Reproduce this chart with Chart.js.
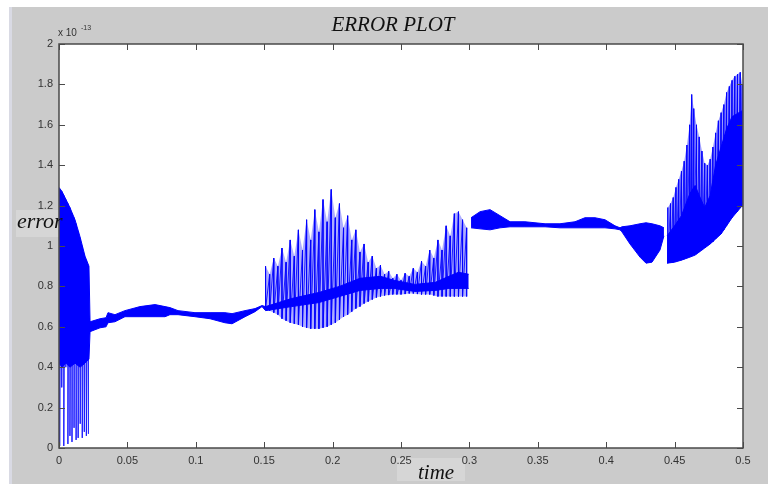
<!DOCTYPE html>
<html>
<head>
<meta charset="utf-8">
<title>Error plot</title>
<script src="https://cdn.jsdelivr.net/npm/chart.js@4.4.1/dist/chart.umd.min.js"></script>
<style>
  html, body { margin: 0; padding: 0; background: #fff; }
  #wrap { position: relative; width: 768px; height: 484px; }
</style>
</head>
<body>
<div id="wrap"><canvas id="errorChart" width="768" height="484"></canvas></div>
<script>
// Values are in units of 1e-13 (the axis carries the multiplier)

// Dense core of the signal: upper / lower edge, null = break
const bandTime = [
    0, 0.0022, 0.0051, 0.008, 0.0117, 0.0154, 0.019, 0.0219,
    0.0227, 0.030, 0.0344, 0.0358, 0.0409, 0.0482, 0.0592, 0.0702, 0.0775, 0.0811, 0.087,
    0.0994, 0.1104, 0.1213, 0.1265, 0.136, 0.1433, 0.1484,
    0.151, 0.17, 0.19, 0.205, 0.22, 0.235, 0.245, 0.26, 0.275, 0.285, 0.292, 0.2995,
    0.300,
    0.3012, 0.3078, 0.3151, 0.3224, 0.3297, 0.3406, 0.3553, 0.3662, 0.3772, 0.3845, 0.3918,
    0.3991, 0.4064, 0.4101, 0.4115, 0.4174, 0.4247, 0.4291, 0.4335, 0.4393, 0.4422,
    0.4435,
    0.4445, 0.45, 0.455, 0.4612, 0.465, 0.468, 0.472, 0.476, 0.48, 0.484, 0.488, 0.492, 0.4995
];
const bandHigh = [
    1.29, 1.27, 1.23, 1.19, 1.13, 1.045, 0.95, 0.90,
    0.625, 0.64, 0.645, 0.67, 0.66, 0.68, 0.70, 0.71, 0.70, 0.695, 0.68,
    0.67, 0.67, 0.67, 0.665, 0.68, 0.69, 0.705,
    0.70, 0.74, 0.77, 0.80, 0.84, 0.85, 0.83, 0.81, 0.82, 0.85, 0.87, 0.86,
    null,
    1.14, 1.17, 1.18, 1.15, 1.12, 1.12, 1.11, 1.11, 1.12, 1.14, 1.14,
    1.13, 1.10, 1.09, 1.095, 1.10, 1.11, 1.115, 1.11, 1.10, 1.09,
    null,
    1.05, 1.10, 1.15, 1.26, 1.30, 1.25, 1.19, 1.25, 1.40, 1.49, 1.58, 1.64, 1.67
];
const bandLow = [
    0.42, 0.40, 0.42, 0.40, 0.42, 0.40, 0.42, 0.44,
    0.576, 0.595, 0.60, 0.62, 0.625, 0.65, 0.65, 0.65, 0.65, 0.66, 0.66,
    0.65, 0.64, 0.62, 0.615, 0.65, 0.675, 0.70,
    0.68, 0.70, 0.72, 0.75, 0.78, 0.79, 0.79, 0.775, 0.78, 0.79, 0.79, 0.79,
    null,
    1.09, 1.085, 1.08, 1.09, 1.095, 1.095, 1.095, 1.09, 1.09, 1.09, 1.09,
    1.09, 1.085, 1.08, 1.07, 1.01, 0.945, 0.915, 0.92, 0.98, 1.05,
    null,
    0.915, 0.92, 0.93, 0.945, 0.955, 0.97, 0.99, 1.01, 1.035, 1.06, 1.10, 1.14, 1.20
];

// Start-up transient: peak / trough of each swing
const startTime = [0.0005, 0.002, 0.0035, 0.005, 0.0065, 0.008, 0.0095, 0.011, 0.0125, 0.014, 0.0155, 0.017, 0.0185, 0.020, 0.0215];
const startHigh = [1.28, 1.27, 1.25, 1.23, 1.21, 1.19, 1.16, 1.14, 1.11, 1.07, 1.04, 1.00, 0.96, 0.93, 0.90];
const startLow  = [0.01, 0.30, 0.01, 0.40, 0.02, 0.06, 0.03, 0.10, 0.04, 0.05, 0.12, 0.05, 0.08, 0.06, 0.07];

// Swing between 0.15 and 0.3
const rampTime = [
    0.151, 0.154, 0.157, 0.160, 0.163, 0.166, 0.169, 0.172, 0.175, 0.178,
    0.181, 0.184, 0.187, 0.190, 0.193, 0.196, 0.199, 0.202, 0.205, 0.208,
    0.211, 0.214, 0.217, 0.220, 0.223, 0.226, 0.229, 0.232, 0.235, 0.238,
    0.241, 0.244, 0.247, 0.250, 0.253, 0.256, 0.259, 0.262, 0.265, 0.268,
    0.271, 0.274, 0.277, 0.280, 0.283, 0.286, 0.289, 0.292, 0.295, 0.298
];
const rampHigh = [
    0.90, 0.86, 0.94, 0.90, 0.99, 0.92, 1.03, 0.95, 1.08, 0.98,
    1.13, 1.03, 1.18, 1.07, 1.23, 1.12, 1.28, 1.14, 1.21, 1.09,
    1.15, 1.03, 1.08, 0.97, 1.01, 0.92, 0.95, 0.89, 0.905, 0.86,
    0.875, 0.84, 0.86, 0.83, 0.865, 0.85, 0.89, 0.87, 0.925, 0.90,
    0.98, 0.94, 1.03, 0.98, 1.10, 1.05, 1.16, 1.17, 1.13, 1.09
];
const rampLow = [
    0.69, 0.68, 0.67, 0.66, 0.64, 0.63, 0.62, 0.615, 0.61, 0.60,
    0.595, 0.59, 0.59, 0.59, 0.595, 0.60, 0.61, 0.62, 0.635, 0.65,
    0.66, 0.675, 0.69, 0.70, 0.715, 0.725, 0.735, 0.745, 0.75, 0.755,
    0.757, 0.76, 0.76, 0.76, 0.762, 0.765, 0.765, 0.762, 0.76, 0.76,
    0.76, 0.755, 0.75, 0.75, 0.75, 0.75, 0.75, 0.75, 0.75, 0.75
];

// Growing swing after 0.445
const endTime = [
    0.445, 0.447, 0.449, 0.451, 0.453, 0.455, 0.457, 0.459, 0.461, 0.4625,
    0.464, 0.466, 0.468, 0.470, 0.472, 0.474, 0.476, 0.478, 0.480, 0.482,
    0.484, 0.486, 0.488, 0.490, 0.492, 0.494, 0.496, 0.498, 0.4995
];
const endHigh = [
    1.19, 1.21, 1.24, 1.29, 1.33, 1.37, 1.42, 1.50, 1.60, 1.75,
    1.68, 1.60, 1.54, 1.47, 1.41, 1.40, 1.43, 1.49, 1.56, 1.62,
    1.66, 1.70, 1.76, 1.79, 1.82, 1.84, 1.85, 1.86, 1.80
];
const endLow = [
    0.915, 0.92, 0.92, 0.925, 0.93, 0.93, 0.935, 0.94, 0.945, 0.95,
    0.955, 0.96, 0.97, 0.98, 0.99, 1.00, 1.01, 1.02, 1.035, 1.05,
    1.06, 1.08, 1.10, 1.12, 1.14, 1.16, 1.17, 1.19, 1.20
];

const xTicks = [0, 0.05, 0.1, 0.15, 0.2, 0.25, 0.3, 0.35, 0.4, 0.45, 0.5];
const yTicks = [0, 0.2, 0.4, 0.6, 0.8, 1, 1.2, 1.4, 1.6, 1.8, 2];

const BLUE = '#0000ff';
const FIG_GRAY = '#cbcbcb';

// Pair up times and values as {x, y}
const toPoints = (times, values) => times.map((t, i) => ({ x: t, y: values[i] }));

// Each swing as a vertical stroke from its peak down to its trough
const zigzag = (times, highs, lows) => {
    const pts = [];
    times.forEach((t, i) => {
        pts.push({ x: t, y: highs[i] });
        pts.push({ x: t, y: lows[i] });
    });
    return pts;
};

const lineSet = (data, color, extra) => Object.assign({
    data: data,
    borderColor: color,
    borderWidth: 1,
    pointRadius: 0,
    tension: 0,
    fill: false
}, extra || {});

// Pale area between peaks and troughs where the swings overlap
const shadeBetween = (chart, times, highs, lows, color) => {
    const xs = chart.scales.x;
    const ys = chart.scales.y;
    const c = chart.ctx;
    c.beginPath();
    times.forEach((t, i) => {
        const px = xs.getPixelForValue(t);
        const py = ys.getPixelForValue(highs[i]);
        if (i === 0) c.moveTo(px, py); else c.lineTo(px, py);
    });
    for (let i = times.length - 1; i >= 0; i--) {
        c.lineTo(xs.getPixelForValue(times[i]), ys.getPixelForValue(lows[i]));
    }
    c.closePath();
    c.fillStyle = color;
    c.fill();
};

const ctx = document.getElementById('errorChart').getContext('2d');

// Figure background, axes box, inward ticks and the labels
const figurePlugin = {
    id: 'figure',
    beforeDraw(chart) {
        const c = chart.ctx;
        const a = chart.chartArea;
        c.save();
        c.fillStyle = '#ffffff';
        c.fillRect(0, 0, chart.width, chart.height);
        c.fillStyle = FIG_GRAY;
        c.fillRect(9, 7, chart.width - 9, chart.height - 7);
        c.fillStyle = '#d9dae4';
        c.fillRect(9, 7, 3, chart.height - 7);
        c.fillStyle = '#ffffff';
        c.fillRect(a.left, a.top, a.right - a.left, a.bottom - a.top);
        // light boxes behind the axis names
        c.fillStyle = '#d6d6d6';
        c.fillRect(16, 210, 44, 27);
        c.fillRect(397, 458, 68, 23);
        c.restore();
    },
    beforeDatasetsDraw(chart) {
        const c = chart.ctx;
        const a = chart.chartArea;
        c.save();
        c.beginPath();
        c.rect(a.left, a.top, a.right - a.left, a.bottom - a.top);
        c.clip();
        shadeBetween(chart, rampTime, rampHigh, rampLow, 'rgba(40, 40, 255, 0.38)');
        shadeBetween(chart, endTime, endHigh, endLow, 'rgba(40, 40, 255, 0.45)');
        c.restore();
    },
    afterDatasetsDraw(chart) {
        const c = chart.ctx;
        const a = chart.chartArea;
        const xs = chart.scales.x;
        const ys = chart.scales.y;
        const tick = 6;
        c.save();
        c.strokeStyle = '#4a4a4a';
        c.lineWidth = 1;
        c.beginPath();
        xTicks.forEach(v => {
            const px = Math.round(xs.getPixelForValue(v)) + 0.5;
            c.moveTo(px, a.bottom); c.lineTo(px, a.bottom - tick);
            c.moveTo(px, a.top); c.lineTo(px, a.top + tick);
        });
        yTicks.forEach(v => {
            const py = Math.round(ys.getPixelForValue(v)) + 0.5;
            c.moveTo(a.left, py); c.lineTo(a.left + tick, py);
            c.moveTo(a.right, py); c.lineTo(a.right - tick, py);
        });
        c.stroke();
        c.lineWidth = 1.5;
        c.strokeRect(a.left, a.top, a.right - a.left, a.bottom - a.top);

        c.fillStyle = '#111';
        c.font = 'italic 21px "Liberation Serif"';
        c.textAlign = 'center';
        c.textBaseline = 'alphabetic';
        c.fillText('ERROR PLOT', 393, 31);
        c.textAlign = 'left';
        c.font = 'italic 22px "Liberation Serif"';
        c.fillText('error', 17, 228);
        c.font = 'italic 21px "Liberation Serif"';
        c.fillText('time', 418, 479);

        c.fillStyle = '#333';
        c.font = '10px "Liberation Sans"';
        c.fillText('x 10', 58, 36);
        c.font = '7px "Liberation Sans"';
        c.fillText('-13', 81, 30);
        c.restore();
    }
};

new Chart(ctx, {
    type: 'line',
    data: {
        datasets: [
            // dense core
            lineSet(toPoints(bandTime, bandHigh), BLUE),
            lineSet(toPoints(bandTime, bandLow), BLUE, { fill: '-1', backgroundColor: BLUE }),
            // individual swings
            lineSet(zigzag(startTime, startHigh, startLow), 'rgba(0, 0, 255, 0.5)'),
            lineSet(zigzag(rampTime, rampHigh, rampLow), 'rgba(0, 0, 255, 0.85)'),
            lineSet(zigzag(endTime, endHigh, endLow), 'rgba(0, 0, 255, 0.7)')
        ]
    },
    options: {
        responsive: false,
        animation: false,
        devicePixelRatio: 1,
        layout: { padding: { left: 0, top: 44, right: 25, bottom: 0 } },
        plugins: {
            legend: { display: false },
            tooltip: { enabled: false },
            title: { display: false }
        },
        scales: {
            x: {
                type: 'linear',
                min: 0,
                max: 0.5,
                afterBuildTicks: s => { s.ticks = xTicks.map(v => ({ value: v })); },
                afterFit: s => { s.height = 36; },
                grid: { display: false, drawTicks: false },
                border: { display: false },
                ticks: {
                    padding: 6,
                    color: '#333',
                    font: { family: 'Liberation Sans', size: 11 },
                    maxRotation: 0,
                    callback: v => String(+v.toFixed(2))
                }
            },
            y: {
                type: 'linear',
                min: 0,
                max: 2,
                afterBuildTicks: s => { s.ticks = yTicks.map(v => ({ value: v })); },
                afterFit: s => { s.width = 59; },
                grid: { display: false, drawTicks: false },
                border: { display: false },
                ticks: {
                    padding: 6,
                    color: '#333',
                    font: { family: 'Liberation Sans', size: 11 },
                    callback: v => String(+v.toFixed(1))
                }
            }
        }
    },
    plugins: [figurePlugin]
});
</script>
</body>
</html>
